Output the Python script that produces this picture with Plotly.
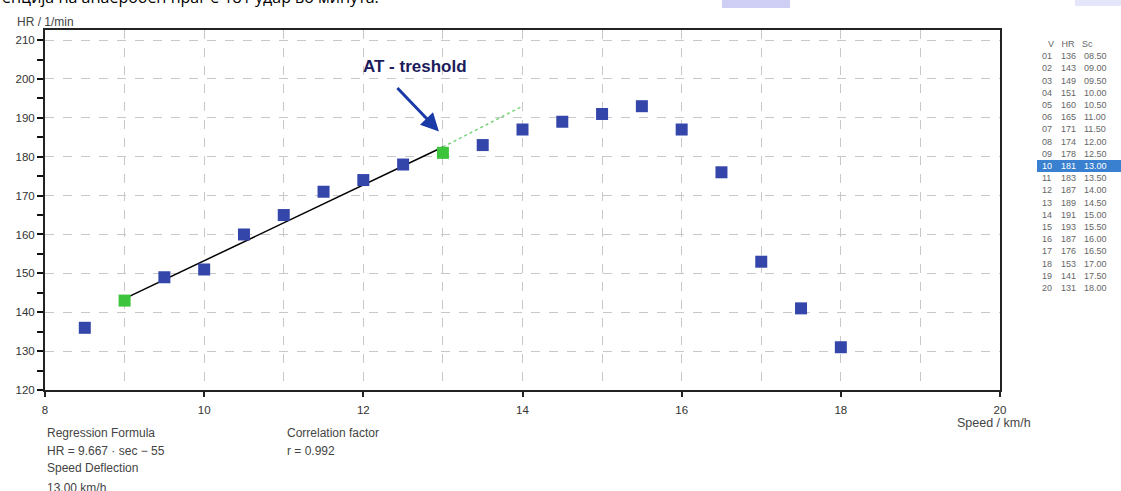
import plotly.graph_objects as go

# ---- data ----
speed = [8.5, 9.0, 9.5, 10.0, 10.5, 11.0, 11.5, 12.0, 12.5, 13.0,
         13.5, 14.0, 14.5, 15.0, 15.5, 16.0, 16.5, 17.0, 17.5, 18.0]
hr = [136, 143, 149, 151, 160, 165, 171, 174, 178, 181,
      183, 187, 189, 191, 193, 187, 176, 153, 141, 131]
green_idx = [1, 9]          # points used as regression endpoints
reg_x = [9.0, 13.0]
reg_y = [143.5, 182.5]
ext_x = [13.0, 14.0]
ext_y = [182.5, 193.0]
x_ticks = [8, 10, 12, 14, 16, 18, 20]
y_ticks = [120, 130, 140, 150, 160, 170, 180, 190, 200, 210]
selected_row = 10

W, H = 1121, 491
L, R, T, B = 45, 121, 30, 101
PW, PH = W - L - R, H - T - B


def px(xp):
    return (xp - L) / PW


def py(yp):
    return (H - B - yp) / PH


blue = "#3446aa"
green = "#3cc43c"
fig = go.Figure()

fig.add_trace(go.Scatter(x=reg_x, y=reg_y, mode="lines",
                         line=dict(color="black", width=1.5), showlegend=False))
fig.add_trace(go.Scatter(x=ext_x, y=ext_y, mode="lines",
                         line=dict(color="#77d477", width=1.5, dash="dot"), showlegend=False))
colors = [green if i in green_idx else blue for i in range(len(speed))]
fig.add_trace(go.Scatter(x=speed, y=hr, mode="markers",
                         marker=dict(symbol="square", size=12, color=colors, line=dict(width=0)),
                         showlegend=False))

tick_font = dict(family="Liberation Sans, Arial, sans-serif", size=11.5, color="#333")
fig.update_xaxes(range=[8, 20], tickvals=x_ticks, ticktext=[str(v) for v in x_ticks],
                 ticks="outside", ticklen=5, tickcolor="#222", tickwidth=1.5,
                 ticklabelstandoff=3,
                 showline=True, linecolor="#222", linewidth=1.5, mirror=True,
                 showgrid=True, gridcolor="#c8c8c8", griddash="dash", gridwidth=1,
                 minor=dict(dtick=1, showgrid=True, gridcolor="#c8c8c8", griddash="dash", ticks=""),
                 zeroline=False, tickfont=tick_font)
fig.update_yaxes(range=[120, 212.6], tickvals=y_ticks, ticktext=[str(v) for v in y_ticks],
                 ticks="outside", ticklen=6, tickcolor="#111", tickwidth=1.5,
                 showline=True, linecolor="#222", linewidth=2, mirror=True,
                 showgrid=True, gridcolor="#c8c8c8", griddash="dash", gridwidth=1,
                 minor=dict(dtick=5, ticks="outside", ticklen=6, tickcolor="#111", showgrid=False),
                 zeroline=False, tickfont=tick_font)

ann = []
txt = dict(family="Liberation Sans, Arial, sans-serif", size=12, color="#444")
# axis titles
ann.append(dict(x=px(15), y=py(22), xref="paper", yref="paper", text="HR / 1/min",
                showarrow=False, xanchor="left", yanchor="middle", font=txt))
ann.append(dict(x=px(955), y=py(423), xref="paper", yref="paper", text="Speed / km/h",
                showarrow=False, xanchor="left", yanchor="middle",
                font=dict(family=txt["family"], size=12.5, color="#444")))
# bottom info
info = [(45, 433, "Regression Formula"), (45, 451, "HR = 9.667 · sec − 55"),
        (45, 468, "Speed Deflection"), (45, 488, "13.00 km/h"),
        (285, 433, "Correlation factor"), (285, 451, "r = 0.992")]
for xp, yp, t in info:
    ann.append(dict(x=px(xp), y=py(yp), xref="paper", yref="paper", text=t,
                    showarrow=False, xanchor="left", yanchor="middle", font=txt))

# AT threshold label + arrow
ann.append(dict(x=px(415), y=py(67), xref="paper", yref="paper", text="<b>AT - treshold</b>",
                showarrow=False, xanchor="center", yanchor="middle",
                font=dict(family="Liberation Sans, Arial, sans-serif", size=17, color="#1c1c5c")))
ann.append(dict(x=12.95, y=186.5, xref="x", yref="y", ax=-43, ay=-45, text="",
                showarrow=True, arrowhead=2, arrowsize=1.2, arrowwidth=3, arrowcolor="#1a3aa8"))

# top cut-off title
ann.append(dict(x=px(0), y=py(10), xref="paper", yref="paper",
                text="енција на анаеробен праг е 181 удар во минута.",
                showarrow=False, xanchor="left", yanchor="bottom",
                font=dict(family="Open Sans, sans-serif", size=16, color="black")))

# right table
tfont = dict(family="Liberation Sans, Arial, sans-serif", size=9, color="#666")
row0, dy = 44, 12.2
ann.append(dict(x=px(1046), y=py(row0), xref="paper", yref="paper", text="V   HR   Sc",
                showarrow=False, xanchor="left", yanchor="middle", font=tfont))
shapes = []
for i in range(len(speed)):
    n = i + 1
    yp = row0 + n * dy
    s = f"{speed[i]:05.2f}"
    col = "white" if n == selected_row else "#666"
    if n == selected_row:
        shapes.append(dict(type="rect", xref="paper", yref="paper",
                           x0=px(1037), x1=px(1121), y0=py(yp - 6), y1=py(yp + 6),
                           fillcolor="#3a80d0", line=dict(width=0)))
    for xp, t in [(1040, f"{n:02d}"), (1059, str(hr[i])), (1082, s)]:
        ann.append(dict(x=px(xp), y=py(yp), xref="paper", yref="paper", text=t,
                        showarrow=False, xanchor="left", yanchor="middle",
                        font=dict(family=tfont["family"], size=9, color=col)))

# decorative blobs at top
shapes.append(dict(type="rect", xref="paper", yref="paper", x0=px(722), x1=px(790),
                   y0=py(8), y1=py(-2), fillcolor="#cfcff5", line=dict(width=0), layer="above"))
shapes.append(dict(type="rect", xref="paper", yref="paper", x0=px(1075), x1=px(1121),
                   y0=py(6), y1=py(-2), fillcolor="#e6e6fa", line=dict(width=0), layer="above"))

fig.update_layout(width=W, height=H, margin=dict(l=L, r=R, t=T, b=B),
                  paper_bgcolor="white", plot_bgcolor="white",
                  annotations=ann, shapes=shapes, showlegend=False)
fig.write_html("out.html", config={"displayModeBar": False},
               post_script="document.body.style.margin='0';")
